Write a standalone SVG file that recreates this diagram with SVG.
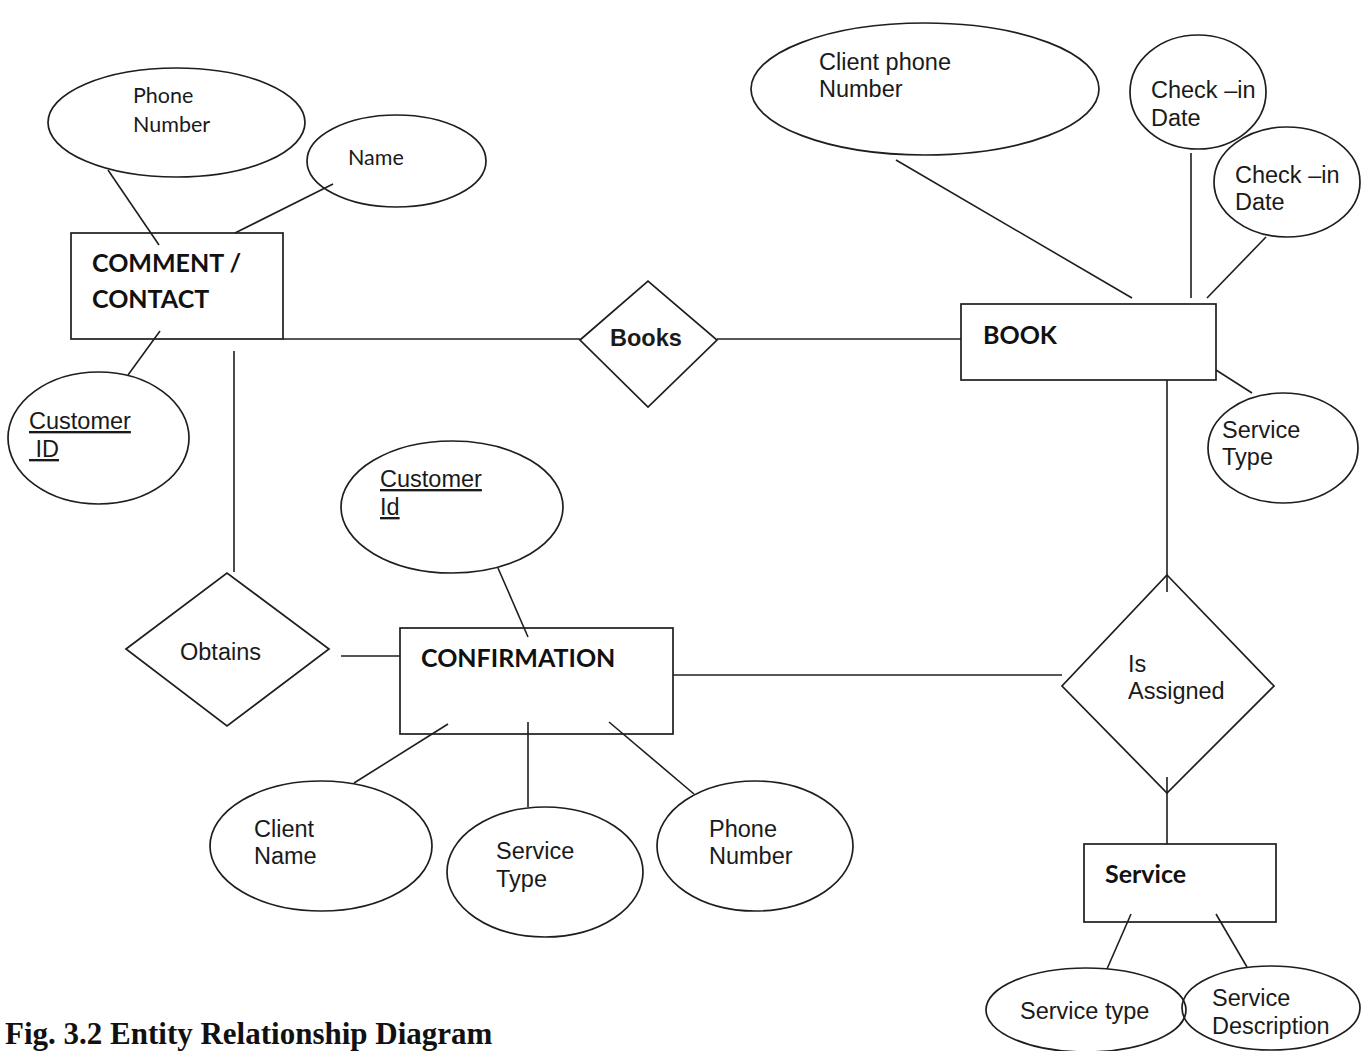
<svg xmlns="http://www.w3.org/2000/svg" width="1367" height="1051" viewBox="0 0 1367 1051">
  <style>
    .shape { fill: none; stroke: #1e1e1e; stroke-width: 1.7; }
    .link { fill: none; stroke: #1e1e1e; stroke-width: 1.6; }
    .attr { font-family: "Liberation Sans", Arial, sans-serif; font-size: 23.5px; fill: #1a1a1a; }
    .attr2 { font-family: Lato, "Open Sans", sans-serif; font-size: 21.5px; fill: #1a1a1a; }
    .ent { font-family: Lato, "Open Sans", sans-serif; font-size: 25px; font-weight: bold; fill: #111; }
    .rel { font-family: "Liberation Sans", Arial, sans-serif; font-size: 23.5px; fill: #1a1a1a; }
    .key { text-decoration: underline; white-space: pre; }
    .caption { font-family: "Liberation Serif", "Times New Roman", serif; font-size: 31px; font-weight: bold; fill: #111; }
  </style>
  <rect x="0" y="0" width="1367" height="1051" fill="#ffffff"/>

  <!-- connectors -->
  <g id="connectors" class="link">
    <line x1="108" y1="170" x2="159" y2="245"/>
    <line x1="333" y1="184" x2="235" y2="233"/>
    <line x1="160" y1="331" x2="128" y2="375"/>
    <line x1="283" y1="339" x2="580" y2="339"/>
    <line x1="717" y1="339" x2="961" y2="339"/>
    <line x1="234" y1="351" x2="234" y2="572"/>
    <line x1="341" y1="656" x2="400" y2="656"/>
    <line x1="498" y1="568" x2="528" y2="637"/>
    <line x1="448" y1="724" x2="354" y2="783"/>
    <line x1="528" y1="722" x2="528" y2="807"/>
    <line x1="609" y1="722" x2="694" y2="794"/>
    <line x1="673" y1="675" x2="1062" y2="675"/>
    <line x1="896" y1="160" x2="1132" y2="298"/>
    <line x1="1191" y1="153" x2="1191" y2="298"/>
    <line x1="1266" y1="237" x2="1207" y2="298"/>
    <line x1="1216" y1="370" x2="1252" y2="393"/>
    <line x1="1167" y1="380" x2="1167" y2="592"/>
    <line x1="1167" y1="777" x2="1167" y2="844"/>
    <line x1="1131" y1="914" x2="1107" y2="969"/>
    <line x1="1216" y1="914" x2="1247" y2="967"/>
  </g>

  <!-- COMMENT / CONTACT entity and its attributes -->
  <g id="comment-contact">
    <rect class="shape" x="71" y="233" width="212" height="106"/>
    <text class="ent" x="92" y="272">COMMENT /</text>
    <text class="ent" x="92" y="308">CONTACT</text>
  </g>
  <g id="attr-phone-number">
    <ellipse class="shape" cx="176.5" cy="122.5" rx="128.5" ry="54.5"/>
    <text class="attr2" x="133" y="103">Phone</text>
    <text class="attr2" x="133" y="132">Number</text>
  </g>
  <g id="attr-name">
    <ellipse class="shape" cx="396.5" cy="161" rx="89.5" ry="46"/>
    <text class="attr2" x="348" y="165">Name</text>
  </g>
  <g id="attr-customer-id">
    <ellipse class="shape" cx="98.5" cy="438" rx="90.5" ry="66"/>
    <text class="attr key" x="29" y="429">Customer</text>
    <text class="attr key" x="29" y="457"> ID</text>
  </g>

  <!-- Books relationship -->
  <g id="rel-books">
    <polygon class="shape" points="580,340 648,281 717,340 648,407"/>
    <text class="rel" x="610" y="346" font-weight="bold">Books</text>
  </g>

  <!-- BOOK entity and its attributes -->
  <g id="book">
    <rect class="shape" x="961" y="304" width="255" height="76"/>
    <text class="ent" x="983" y="344">BOOK</text>
  </g>
  <g id="attr-client-phone">
    <ellipse class="shape" cx="925" cy="89" rx="174" ry="66"/>
    <text class="attr" x="819" y="70">Client phone</text>
    <text class="attr" x="819" y="97">Number</text>
  </g>
  <g id="attr-checkin-1">
    <ellipse class="shape" cx="1198" cy="92" rx="68" ry="57"/>
    <text class="attr" x="1151" y="98">Check –in</text>
    <text class="attr" x="1151" y="126">Date</text>
  </g>
  <g id="attr-checkin-2">
    <ellipse class="shape" cx="1287" cy="182" rx="73" ry="55"/>
    <text class="attr" x="1235" y="183">Check –in</text>
    <text class="attr" x="1235" y="210">Date</text>
  </g>
  <g id="attr-book-service-type">
    <ellipse class="shape" cx="1283" cy="448" rx="75" ry="55"/>
    <text class="attr" x="1222" y="438">Service</text>
    <text class="attr" x="1222" y="465">Type</text>
  </g>

  <!-- Obtains relationship -->
  <g id="rel-obtains">
    <polygon class="shape" points="126,649 227,573 329,649 227,726"/>
    <text class="rel" x="180" y="660">Obtains</text>
  </g>

  <!-- CONFIRMATION entity and its attributes -->
  <g id="confirmation">
    <rect class="shape" x="400" y="628" width="273" height="106"/>
    <text class="ent" x="421" y="667">CONFIRMATION</text>
  </g>
  <g id="attr-conf-customer-id">
    <ellipse class="shape" cx="452" cy="507" rx="111" ry="66"/>
    <text class="attr key" x="380" y="487">Customer</text>
    <text class="attr key" x="380" y="515">Id</text>
  </g>
  <g id="attr-client-name">
    <ellipse class="shape" cx="321" cy="846" rx="111" ry="65"/>
    <text class="attr" x="254" y="837">Client</text>
    <text class="attr" x="254" y="864">Name</text>
  </g>
  <g id="attr-conf-service-type">
    <ellipse class="shape" cx="545" cy="872" rx="98" ry="65"/>
    <text class="attr" x="496" y="859">Service</text>
    <text class="attr" x="496" y="887">Type</text>
  </g>
  <g id="attr-conf-phone">
    <ellipse class="shape" cx="755" cy="846" rx="98" ry="65"/>
    <text class="attr" x="709" y="837">Phone</text>
    <text class="attr" x="709" y="864">Number</text>
  </g>

  <!-- Is Assigned relationship -->
  <g id="rel-is-assigned">
    <polygon class="shape" points="1167,575 1274,686 1167,793 1062,686"/>
    <text class="rel" x="1128" y="672">Is</text>
    <text class="rel" x="1128" y="699">Assigned</text>
  </g>

  <!-- Service entity and its attributes -->
  <g id="service">
    <rect class="shape" x="1084" y="844" width="192" height="78"/>
    <text class="ent" x="1105" y="883">Service</text>
  </g>
  <g id="attr-service-type">
    <ellipse class="shape" cx="1086" cy="1010" rx="100" ry="42"/>
    <text class="attr" x="1020" y="1019">Service type</text>
  </g>
  <g id="attr-service-description">
    <ellipse class="shape" cx="1271" cy="1008" rx="89" ry="42"/>
    <text class="attr" x="1212" y="1006">Service</text>
    <text class="attr" x="1212" y="1034">Description</text>
  </g>

  <text class="caption" x="5" y="1044">Fig. 3.2 Entity Relationship Diagram</text>
</svg>
